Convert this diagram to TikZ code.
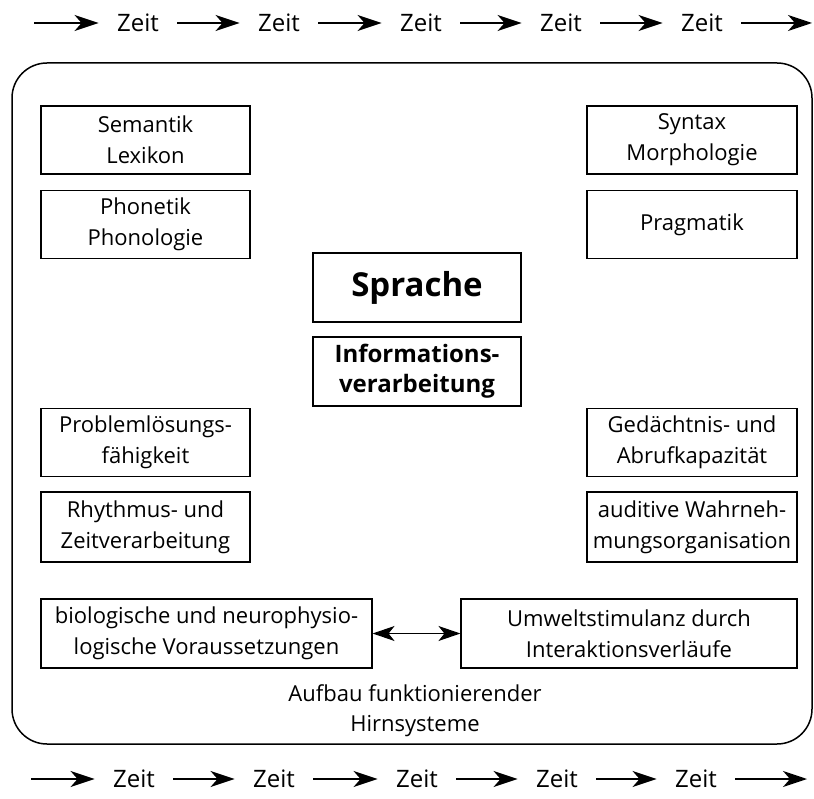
\documentclass[tikz,border=0pt]{standalone}
\usepackage{fontspec}
\setmainfont{Open Sans}
\usetikzlibrary{arrows.meta}
\usetikzlibrary{positioning}

\begin{document}
\begin{tikzpicture}[x=1pt,y=-1pt,line width=1.2pt,
    box/.style={draw, line width=1.1pt, align=center, inner sep=0pt,
      minimum width=209pt, minimum height=68pt, font=\fontsize{22}{31}\selectfont},
    zeit/.style={inner ysep=0pt, inner xsep=18pt, font=\fontsize{24}{28}\selectfont},
    pfeil/.style={-{Stealth[length=24pt,width=16pt,inset=7pt]}, line width=1.5pt},
    doppel/.style={{Stealth[length=22pt,width=15pt,inset=6pt]}-{Stealth[length=22pt,width=15pt,inset=6pt]}, line width=1.4pt}
    ]
\useasboundingbox (0,0) rectangle (814,799);
\edef\yo{23}
\edef\yu{779}

\coordinate (to0) at (34,\yo);
\node[zeit] (zo1) at (138,\yo) {Zeit};
\node[zeit] (zo2) at (279,\yo) {Zeit};
\node[zeit] (zo3) at (421,\yo) {Zeit};
\node[zeit] (zo4) at (561,\yo) {Zeit};
\node[zeit] (zo5) at (702,\yo) {Zeit};
\coordinate (to6) at (812,\yo);
\draw [pfeil] (to0) -- (zo1.west);
\draw [pfeil] (zo1.east) -- (zo2.west);
\draw [pfeil] (zo2.east) -- (zo3.west);
\draw [pfeil] (zo3.east) -- (zo4.west);
\draw [pfeil] (zo4.east) -- (zo5.west);
\draw [pfeil] (zo5.east) -- (to6);

\draw [line width=1.5pt, rounded corners=35pt] (12,63) rectangle (812,744);

\node[box] (sem) at (145.5,140) {Semantik\\Lexikon};
\node[box] (pho) at (145.5,224.5) {Phonetik\\Phonologie};
\node[box, minimum width=210pt] (syn) at (692,140) {Syntax\\Morphologie};
\node[box, minimum width=210pt] (pra) at (692,224.5) {Pragmatik};

\node[box, minimum width=208pt, minimum height=69pt, font=\fontsize{33}{36}\selectfont\bfseries] (spr) at (417,287.5) {Sprache};
\node[box, minimum width=208pt, minimum height=69pt, font=\fontsize{24}{30}\selectfont\bfseries] (inf) at (417,371.5) {Informations-\\verarbeitung};

\node[box] (pro) at (145.5,442.5) {Problemlösungs-\\fähigkeit};
\node[box, minimum height=70pt] (rhy) at (145.5,527) {Rhythmus- und\\Zeitverarbeitung};
\node[box, minimum width=210pt] (ged) at (692,442.5) {Gedächtnis- und\\Abrufkapazität};
\node[box, minimum width=210pt, minimum height=70pt] (aud) at (692,527) {auditive Wahrneh-\\mungsorganisation};

\node[box, minimum width=331pt, minimum height=69pt] (bio) at (206.5,633.5) {biologische und neurophysio-\\logische Voraussetzungen};
\node[box, minimum width=336pt, minimum height=69pt] (umw) at (629,633.5) {Umweltstimulanz durch\\Interaktionsverläufe};
\draw [doppel] (bio.east) -- (umw.west);

\node[align=center, font=\fontsize{22}{30}\selectfont] (hirn) at (415,711) {Aufbau funktionierender\\Hirnsysteme};

\coordinate (tu0) at (31,\yu);
\node[zeit] (zu1) at (134,\yu) {Zeit};
\node[zeit] (zu2) at (274,\yu) {Zeit};
\node[zeit] (zu3) at (417,\yu) {Zeit};
\node[zeit] (zu4) at (557,\yu) {Zeit};
\node[zeit] (zu5) at (696,\yu) {Zeit};
\coordinate (tu6) at (807,\yu);
\draw [pfeil] (tu0) -- (zu1.west);
\draw [pfeil] (zu1.east) -- (zu2.west);
\draw [pfeil] (zu2.east) -- (zu3.west);
\draw [pfeil] (zu3.east) -- (zu4.west);
\draw [pfeil] (zu4.east) -- (zu5.west);
\draw [pfeil] (zu5.east) -- (tu6);
\end{tikzpicture}
\end{document}
